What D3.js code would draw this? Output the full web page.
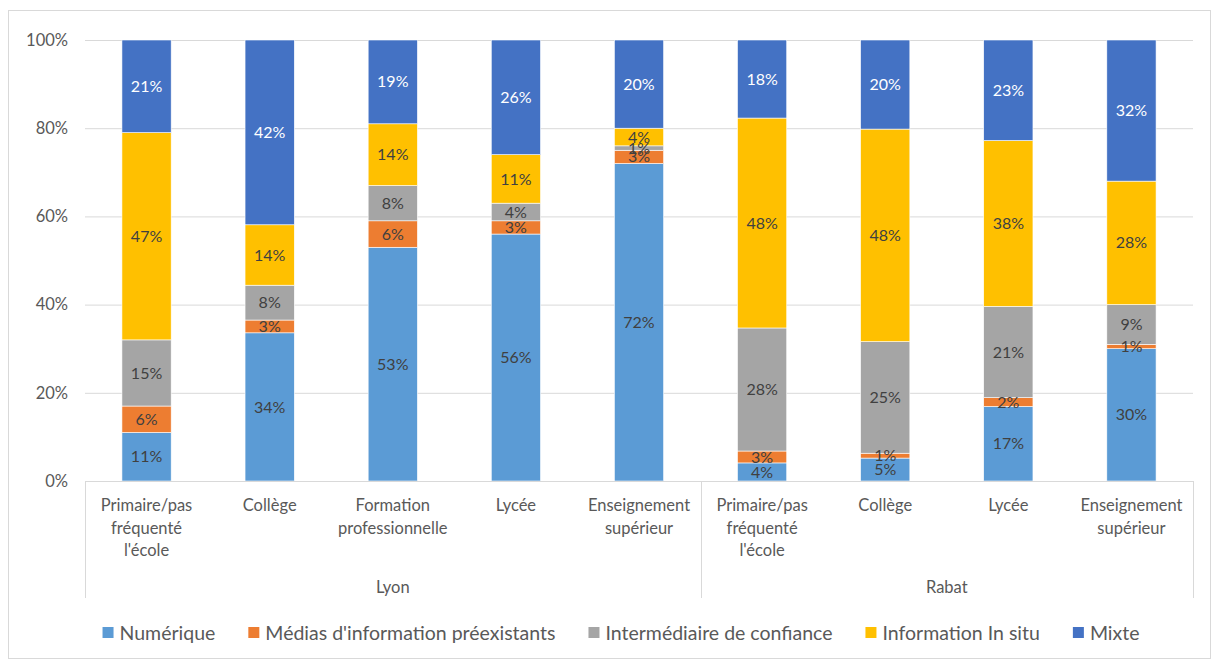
<!DOCTYPE html>
<html><head><meta charset="utf-8">
<script src="https://cdn.jsdelivr.net/npm/d3@7"></script>
<style>body{margin:0;background:#fff;}svg{display:block;font-family:Lato,"Open Sans",sans-serif;}</style>
</head><body>
<script>
const cities = ["Lyon","Lyon","Lyon","Lyon","Lyon","Rabat","Rabat","Rabat","Rabat"];
const categories = ["Primaire/pas\nfréquenté\nl'école","Collège","Formation\nprofessionnelle","Lycée","Enseignement\nsupérieur",
                    "Primaire/pas\nfréquenté\nl'école","Collège","Lycée","Enseignement\nsupérieur"];
const seriesNames = ["Numérique","Médias d'information préexistants","Intermédiaire de confiance","Information In situ","Mixte"];
const numerique     = [11, 33.6, 53, 56, 72, 4.1, 5.2, 16.9, 30];
const medias        = [6, 2.9, 6, 3, 3, 2.7, 1.1, 2.0, 1];
const intermediaire = [15, 7.9, 8, 4, 1, 27.9, 25.3, 20.7, 9];
const insitu        = [47, 13.7, 14, 11, 4, 47.6, 48.2, 37.6, 28];
const mixte         = [21, 41.9, 19, 26, 20, 17.7, 20.2, 22.8, 32];
const yTicks = [0, 0.2, 0.4, 0.6, 0.8, 1];
const colors = ["#5b9bd5","#ed7d31","#a5a5a5","#ffc000","#4472c4"];

(function(){
const W = 1219, H = 664;
const svg = d3.select("body").append("svg").attr("width", W).attr("height", H);
svg.append("rect").attr("x",8.5).attr("y",10.5).attr("width",1202).attr("height",648)
  .attr("fill","#fff").attr("stroke","#d9d9d9");

const pl = 85, pr = 1193, pt = 40, pb = 481;
const idx = categories.map((d,i)=>i);
const x = d3.scaleBand().domain(idx).range([pl,pr]).paddingInner(0.6).paddingOuter(0.3);
const y = d3.scaleLinear().domain([0,1]).range([pb,pt]);

svg.append("g").selectAll("line").data(yTicks).join("line")
  .attr("x1",pl).attr("x2",pr).attr("y1",d=>y(d)+0.5).attr("y2",d=>y(d)+0.5)
  .attr("stroke","#d9d9d9").attr("stroke-width",1);

const yAxis = d3.axisLeft(y).tickValues(yTicks).tickFormat(d3.format(".0%")).tickSize(0).tickPadding(17);
const ya = svg.append("g").attr("transform",`translate(${pl},0)`).call(yAxis);
ya.select(".domain").remove();
ya.selectAll("text").attr("font-size",16.5).attr("fill","#595959").attr("font-family","Lato,sans-serif");

const seriesArrays = [numerique, medias, intermediaire, insitu, mixte];
const table = idx.map(i => { const o = {i}; seriesNames.forEach((s,k)=>o[s]=seriesArrays[k][i]); return o; });
const stacked = d3.stack().keys(seriesNames).offset(d3.stackOffsetExpand)(table);

const layers = svg.append("g").selectAll("g").data(stacked).join("g")
  .attr("fill",(d,k)=>colors[k]);
layers.selectAll("rect").data(d=>d).join("rect")
  .attr("x",d=>x(d.data.i)).attr("width",x.bandwidth())
  .attr("y",d=>y(d[1])).attr("height",d=>y(d[0])-y(d[1]))
  .attr("stroke","#ffffff").attr("stroke-width",0.6);

stacked.forEach((layer,k)=>{
  svg.append("g").selectAll("text").data(layer).join("text")
    .attr("x",d=>x(d.data.i)+x.bandwidth()/2)
    .attr("y",d=>(y(d[0])+y(d[1]))/2)
    .attr("dy","0.35em").attr("text-anchor","middle")
    .attr("font-size",16)
    .attr("fill", k===4 ? "#ffffff" : "#404040")
    .text(d=>Math.round(d.data[layer.key])+"%");
});

svg.append("line").attr("x1",pl).attr("x2",pr).attr("y1",pb+0.5).attr("y2",pb+0.5)
  .attr("stroke","#d9d9d9");

const cat = svg.append("g");
categories.forEach((c,i)=>{
  const cxp = x(i)+x.bandwidth()/2;
  const t = cat.append("text").attr("text-anchor","middle").attr("font-size",16.5).attr("fill","#595959")
    .attr("x",cxp).attr("y",511);
  c.split("\n").forEach((line,j)=>t.append("tspan").attr("x",cxp).attr("dy",j===0?0:22.5).text(line));
});

const groups = Array.from(new Set(cities));
const sepX = [pl];
groups.forEach(g=>{
  const ids = idx.filter(i=>cities[i]===g);
  const last = ids[ids.length-1];
  sepX.push(last===idx.length-1 ? pr : (x(last)+x.bandwidth()+x(last+1))/2);
});
svg.append("g").selectAll("line").data(sepX).join("line")
  .attr("x1",d=>Math.round(d)+0.5).attr("x2",d=>Math.round(d)+0.5).attr("y1",pb).attr("y2",598)
  .attr("stroke","#d9d9d9");
groups.forEach((g,gi)=>{
  svg.append("text").attr("x",(sepX[gi]+sepX[gi+1])/2).attr("y",593).attr("text-anchor","middle")
    .attr("font-size",16.5).attr("fill","#595959").text(g);
});

const leg = svg.append("g").attr("transform","translate(0,633)");
const items = [];
seriesNames.forEach((s,k)=>{
  const g = leg.append("g");
  g.append("rect").attr("x",0).attr("y",-6).attr("width",11).attr("height",11).attr("fill",colors[k]);
  const t = g.append("text").attr("x",17).attr("y",0).attr("dy","0.35em").attr("font-size",19.5).attr("fill","#595959").text(s);
  items.push({g, w: 17 + t.node().getComputedTextLength()});
});
const gap = 33;
const total = d3.sum(items,d=>d.w) + gap*(items.length-1);
let cx = 621 - total/2;
items.forEach(it=>{ it.g.attr("transform",`translate(${cx},0)`); cx += it.w + gap; });
})();
</script>
</body></html>
